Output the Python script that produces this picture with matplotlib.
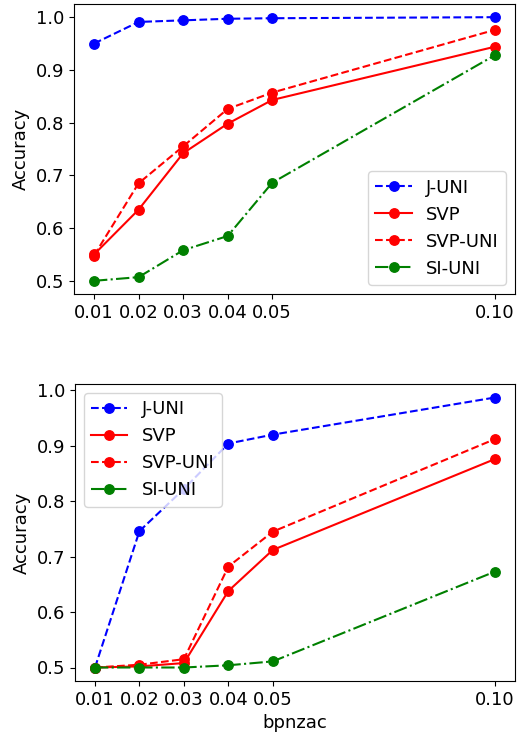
import matplotlib
matplotlib.use('Agg')
import matplotlib.pyplot as plt

# x values (bpnzac)
bpnzac = [0.01, 0.02, 0.03, 0.04, 0.05, 0.10]
tick_labels = ['0.01', '0.02', '0.03', '0.04', '0.05', '0.10']

# top panel
top_juni = [0.950, 0.991, 0.994, 0.997, 0.998, 1.000]
top_svp = [0.550, 0.635, 0.742, 0.798, 0.843, 0.944]
top_svpuni = [0.548, 0.685, 0.755, 0.826, 0.857, 0.976]
top_siuni = [0.500, 0.507, 0.558, 0.585, 0.686, 0.928]

# bottom panel
bot_juni = [0.500, 0.746, 0.822, 0.904, 0.920, 0.987]
bot_svp = [0.500, 0.502, 0.508, 0.638, 0.712, 0.876]
bot_svpuni = [0.500, 0.505, 0.515, 0.682, 0.745, 0.912]
bot_siuni = [0.500, 0.500, 0.500, 0.504, 0.511, 0.673]

plt.rcParams['font.size'] = 13

fig, (ax1, ax2) = plt.subplots(2, 1, figsize=(5.3, 7.32), dpi=100)


def draw_panel(ax, juni, svp, svpuni, siuni, legend_loc):
    ax.plot(bpnzac, juni, 'b--', marker='o', ms=6.8, label='J-UNI')
    ax.plot(bpnzac, svp, 'r-', marker='o', ms=6.8, label='SVP')
    ax.plot(bpnzac, svpuni, 'r--', marker='o', ms=6.8, label='SVP-UNI')
    ax.plot(bpnzac, siuni, 'g-.', marker='o', ms=6.8, label='SI-UNI')
    ax.set_xticks(bpnzac)
    ax.set_xticklabels(tick_labels)
    ax.set_ylabel('Accuracy')
    ax.legend(loc=legend_loc)


draw_panel(ax1, top_juni, top_svp, top_svpuni, top_siuni, 'lower right')
draw_panel(ax2, bot_juni, bot_svp, bot_svpuni, bot_siuni, 'upper left')
ax2.set_xlabel('bpnzac')

# place axes to match the reference layout
ax1.set_position([74 / 530, 1 - 294 / 732, 441 / 530, 290 / 732])
ax2.set_position([75 / 530, 1 - 681 / 732, 440 / 530, 297 / 732])

plt.savefig('out.png', dpi=100)
